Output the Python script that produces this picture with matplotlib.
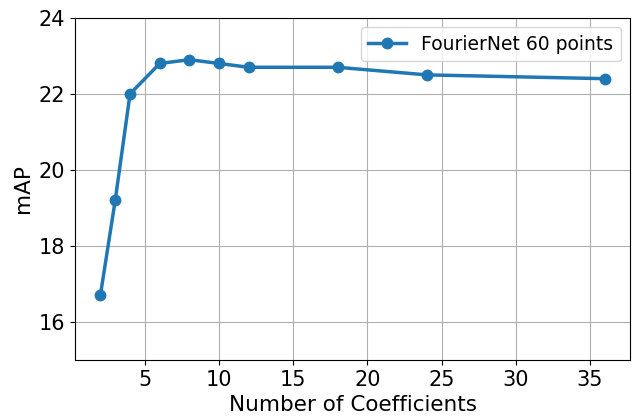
import matplotlib
matplotlib.use("Agg")
import matplotlib.pyplot as plt

coeffs = [2, 3, 4, 6, 8, 10, 12, 18, 24, 36]
mAP = [16.7, 19.2, 22.0, 22.8, 22.9, 22.8, 22.7, 22.7, 22.5, 22.4]

plt.rcParams['font.size'] = 15
fig, ax = plt.subplots(figsize=(6.37, 4.16), dpi=100)
ax.plot(coeffs, mAP, '-o', color='#1f77b4', linewidth=2.5, markersize=7.5,
        label='FourierNet 60 points')
ax.set_ylim(15, 24)
ax.set_yticks([16, 18, 20, 22, 24])
ax.set_xlabel('Number of Coefficients', fontsize=15.5)
ax.set_ylabel('mAP', fontsize=15.5)
ax.grid(True)
ax.legend(loc='upper right', fontsize=13.5)
fig.subplots_adjust(left=0.118, right=0.989, top=0.957, bottom=0.135)
fig.savefig('out.png', dpi=100)
